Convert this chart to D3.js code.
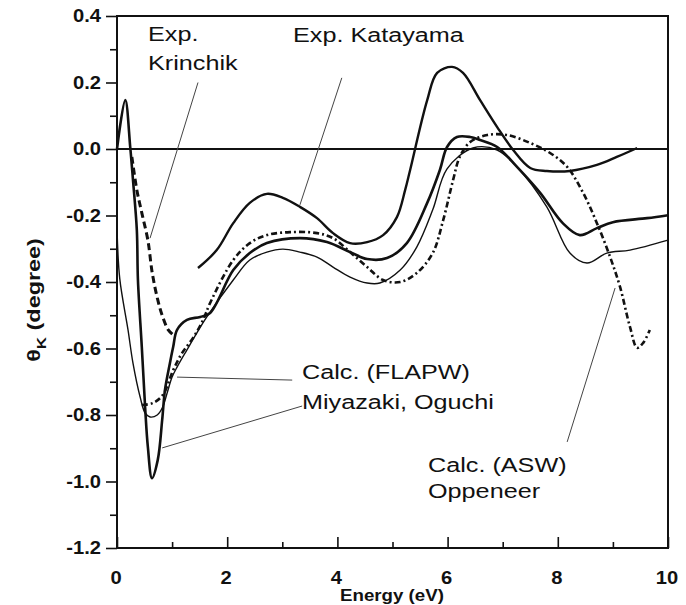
<!DOCTYPE html>
<html>
<head>
<meta charset="utf-8">
<script src="https://cdn.jsdelivr.net/npm/d3@7"></script>
<style>
  body { margin: 0; background: #fff; }
  svg text { font-family: "Liberation Sans", Arial, sans-serif; fill: #111; }
</style>
</head>
<body>
<div id="chart"></div>
<script>
// Kerr rotation spectra, energy (eV) vs theta_K (degree)

// Exp. Katayama (thick solid)
var katayamaE = [1.47, 1.81, 2.11, 2.41, 2.72, 3.01, 3.32, 3.63, 3.92, 4.23, 4.54, 4.83, 5.08, 5.23, 5.32, 5.63, 5.81, 6.08, 6.28, 6.59, 6.90, 7.19, 7.50, 7.80, 8.22, 8.71, 9.07, 9.44];
var katayamaTheta = [-0.358, -0.304, -0.223, -0.162, -0.135, -0.147, -0.174, -0.208, -0.253, -0.283, -0.280, -0.259, -0.205, -0.123, -0.063, 0.147, 0.229, 0.247, 0.229, 0.147, 0.066, -0.003, -0.057, -0.066, -0.066, -0.048, -0.024, 0.003];

// Exp. Krinchik (dashed part)
var krinchikE = [0.27, 0.36, 0.45, 0.56, 0.64, 0.74, 0.83, 0.93, 1.02];
var krinchikTheta = [-0.024, -0.123, -0.192, -0.274, -0.373, -0.454, -0.505, -0.544, -0.559];

// Calc. FLAPW, thick curve
var flapwThickE = [0.0, 0.15, 0.24, 0.29, 0.36, 0.38, 0.45, 0.51, 0.56, 0.635, 0.74, 0.82, 0.87, 0.96, 1.02, 1.09, 1.27, 1.51, 1.69, 2.11, 2.41, 2.72, 3.32, 3.81, 4.23, 4.54, 4.90, 5.26, 5.63, 5.86, 5.99, 6.17, 6.41, 6.59, 6.90, 7.26, 7.68, 8.09, 8.40, 8.71, 9.00, 9.62, 10.0];
var flapwThickTheta = [0.0, 0.147, 0.006, -0.093, -0.244, -0.394, -0.595, -0.776, -0.896, -0.99, -0.935, -0.815, -0.725, -0.644, -0.595, -0.544, -0.514, -0.505, -0.493, -0.364, -0.313, -0.283, -0.268, -0.280, -0.310, -0.331, -0.328, -0.283, -0.162, -0.063, 0.006, 0.036, 0.036, 0.027, 0.006, -0.054, -0.132, -0.223, -0.259, -0.238, -0.220, -0.208, -0.199];

// Calc. FLAPW, thin curve
var flapwThinE = [0.0, 0.05, 0.2, 0.29, 0.42, 0.51, 0.6, 0.73, 0.83, 0.91, 1.0, 1.09, 1.27, 1.45, 1.63, 2.11, 2.41, 2.72, 3.01, 3.32, 3.63, 3.92, 4.23, 4.54, 4.77, 5.14, 5.44, 5.73, 5.99, 6.46, 6.90, 7.26, 7.80, 8.22, 8.53, 8.89, 9.31, 10.0];
var flapwThinTheta = [-0.24, -0.39, -0.544, -0.644, -0.746, -0.794, -0.806, -0.80, -0.776, -0.734, -0.686, -0.656, -0.604, -0.553, -0.505, -0.394, -0.334, -0.310, -0.301, -0.310, -0.325, -0.355, -0.385, -0.403, -0.403, -0.364, -0.295, -0.183, -0.060, 0.003, -0.003, -0.054, -0.174, -0.313, -0.343, -0.313, -0.304, -0.274];

// Calc. ASW, Oppeneer (dash-dot)
var aswE = [0.45, 0.65, 0.83, 1.02, 1.18, 1.38, 1.56, 1.69, 2.11, 2.41, 2.72, 3.14, 3.63, 3.92, 4.23, 4.54, 4.83, 5.14, 5.44, 5.73, 5.92, 6.10, 6.22, 6.41, 6.72, 7.08, 7.50, 7.86, 8.17, 8.46, 8.71, 8.95, 9.13, 9.31, 9.44, 9.55, 9.67];
var aswTheta = [-0.77, -0.764, -0.74, -0.665, -0.614, -0.568, -0.515, -0.463, -0.334, -0.283, -0.259, -0.250, -0.253, -0.268, -0.310, -0.355, -0.394, -0.400, -0.373, -0.313, -0.214, -0.093, -0.024, 0.021, 0.042, 0.042, 0.018, -0.012, -0.054, -0.132, -0.223, -0.325, -0.415, -0.535, -0.598, -0.583, -0.544];

// axis ticks
var yMajorTicks = [0.4, 0.2, 0.0, -0.2, -0.4, -0.6, -0.8, -1.0, -1.2];
var yMinorTicks = [0.3, 0.1, -0.1, -0.3, -0.5, -0.7, -0.9, -1.1];
var xMajorTicks = [0, 2, 4, 6, 8, 10];
var xMinorTicks = [1, 3, 5, 7, 9];

var svgWidth = 686, svgHeight = 605;
var stretch = 1.2;  // the scanned text is wider than it is tall

var svg = d3.select('#chart').append('svg')
   .attr('width', svgWidth)
   .attr('height', svgHeight);

var x = d3.scaleLinear().domain([0, 10]).range([117, 668]);
var y = d3.scaleLinear().domain([-1.2, 0.4]).range([548, 16]);

function pairs(xs, ys) {
   return xs.map(function (d, i) { return [d, ys[i]]; });
}

//stretched text helper
function addText(px, py, str, size, weight, anchor, sx) {
   return svg.append('text')
      .attr('transform', 'translate(' + px + ',' + py + ') scale(' + (sx || stretch) + ',1)')
      .attr('font-size', size + 'px')
      .attr('font-weight', weight || 'normal')
      .attr('text-anchor', anchor || 'start')
      .text(str);
}

//axes
var fmt = function (d) { return d3.format('.1f')(d).replace('\u2212', '-'); };

svg.append('g').attr('transform', 'translate(117,0)')
   .call(d3.axisLeft(y).tickValues(yMajorTicks).tickSize(11).tickSizeOuter(0).tickFormat(''));
svg.append('g').attr('transform', 'translate(117,0)')
   .call(d3.axisLeft(y).tickValues(yMinorTicks).tickSize(7).tickSizeOuter(0).tickFormat(''));
svg.append('g').attr('transform', 'translate(0,548)')
   .call(d3.axisBottom(x).tickValues(xMajorTicks).tickSize(-11).tickSizeOuter(0).tickFormat(''));
svg.append('g').attr('transform', 'translate(0,548)')
   .call(d3.axisBottom(x).tickValues(xMinorTicks).tickSize(-6).tickSizeOuter(0).tickFormat(''));
svg.selectAll('.domain').remove();
svg.selectAll('.tick line').attr('stroke', '#111').attr('stroke-width', 1.6);

yMajorTicks.forEach(function (d) {
   addText(101, y(d) + 6, fmt(d), 18, 'bold', 'end', 1.12);
});
xMajorTicks.forEach(function (d) {
   addText(x(d) - 1, 584, String(d), 18, 'bold', 'middle', 1.12);
});

//frame
svg.append('rect')
   .attr('x', x(0)).attr('y', y(0.4))
   .attr('width', x(10) - x(0)).attr('height', y(-1.2) - y(0.4))
   .attr('fill', 'none').attr('stroke', '#111').attr('stroke-width', 2);

//zero line
svg.append('line')
   .attr('x1', x(0)).attr('x2', x(10)).attr('y1', y(0)).attr('y2', y(0))
   .attr('stroke', '#111').attr('stroke-width', 1.8);

//axis titles
addText(392, 601, 'Energy (eV)', 17, 'bold', 'middle', 1.1);
var yTitle = svg.append('text')
   .attr('transform', 'translate(40,300) rotate(-90) scale(1.3,1)')
   .attr('font-size', '18px').attr('font-weight', 'bold')
   .attr('text-anchor', 'middle');
yTitle.append('tspan').text('\u03b8');
yTitle.append('tspan').attr('font-size', '13px').attr('dy', 6).text('K');
yTitle.append('tspan').attr('dy', -6).text(' (degree)');

//curves
var line = d3.line()
   .x(function (d) { return x(d[0]); })
   .y(function (d) { return y(d[1]); })
   .curve(d3.curveCatmullRom.alpha(0.5));

var series = [
   {e: flapwThinE, t: flapwThinTheta, w: 1.4, dash: null},
   {e: aswE, t: aswTheta, w: 2.6, dash: '6,3,2,3'},
   {e: flapwThickE, t: flapwThickTheta, w: 2.6, dash: null},
   {e: krinchikE, t: krinchikTheta, w: 3, dash: '7,4'},
   {e: katayamaE, t: katayamaTheta, w: 2.4, dash: null}
];

svg.append('g').selectAll('path')
   .data(series)
   .enter()
   .append('path')
   .attr('d', function (s) { return line(pairs(s.e, s.t)); })
   .attr('fill', 'none')
   .attr('stroke', '#111')
   .attr('stroke-width', function (s) { return s.w; })
   .attr('stroke-dasharray', function (s) { return s.dash; })
   .attr('stroke-linejoin', 'round');

//leader lines, in data units
var leaders = [
   [[1.47, 0.20], [0.60, -0.268]],
   [[4.08, 0.214], [3.32, -0.168]],
   [[1.09, -0.686], [3.18, -0.695]],
   [[0.82, -0.899], [3.36, -0.773]],
   [[9.04, -0.418], [8.17, -0.881]]
];
svg.append('g').selectAll('line')
   .data(leaders)
   .enter()
   .append('line')
   .attr('x1', function (d) { return x(d[0][0]); })
   .attr('y1', function (d) { return y(d[0][1]); })
   .attr('x2', function (d) { return x(d[1][0]); })
   .attr('y2', function (d) { return y(d[1][1]); })
   .attr('stroke', '#444')
   .attr('stroke-width', 1);

//annotations
addText(148, 41, 'Exp.', 21);
addText(148, 70, 'Krinchik', 21);
addText(293, 42, 'Exp. Katayama', 21);
addText(302, 379, 'Calc. (FLAPW)', 21);
addText(302, 409, 'Miyazaki, Oguchi', 21);
addText(428, 472, 'Calc. (ASW)', 21);
addText(428, 498, 'Oppeneer', 21);
</script>
</body>
</html>
